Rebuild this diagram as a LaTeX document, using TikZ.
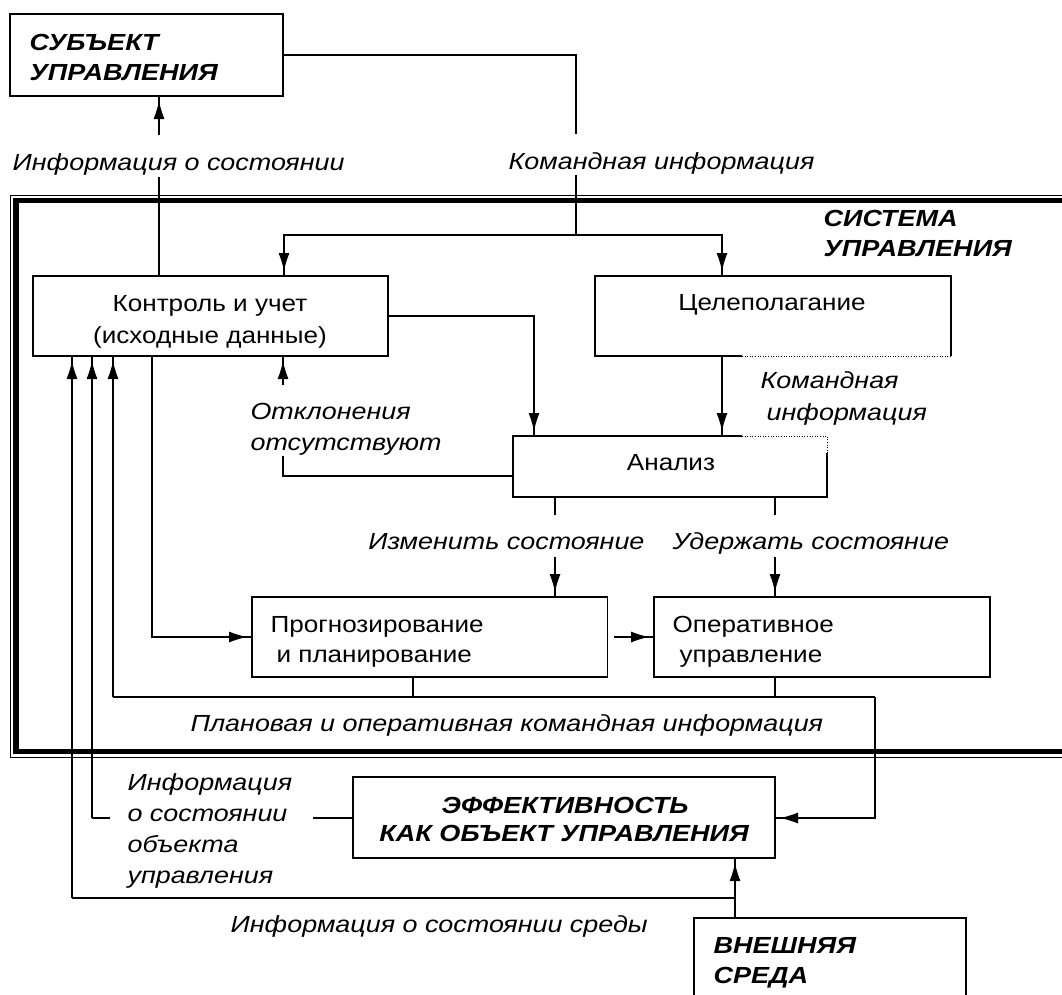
\documentclass[tikz,border=0pt]{standalone}
\usepackage{fontspec}
\setmainfont{Liberation Sans}[FakeStretch=1.12]
\newfontfamily\itfam{Liberation Sans}[FakeStretch=1.155]
\newfontfamily\bifam{Liberation Sans}[FakeStretch=1.16]
\usetikzlibrary{arrows.meta}
\begin{document}
\begin{tikzpicture}[x=1pt,y=-1pt,line width=1.1pt,
  box/.style={draw,line width=1.1pt,inner sep=0pt,outer sep=0pt,anchor=north west},
  frm/.style={inner sep=0pt,outer sep=0pt,anchor=north west},
  reg/.style={font=\fontsize{23.3}{28}\selectfont,anchor=base west,inner sep=0pt},
  regc/.style={reg,anchor=base},
  itl/.style={font=\itfam\fontsize{23.3}{28}\selectfont\itshape,anchor=base west,inner sep=0pt},
  itr/.style={itl,anchor=base east},
  bit/.style={font=\bifam\fontsize{23.3}{28}\selectfont\bfseries\itshape,anchor=base west,inner sep=0pt},
  bitc/.style={bit,anchor=base},
  arr/.style={-{Latex[length=18pt,width=11pt,sep=0pt]Rectangle[length=5pt,width=1.1pt]}},
  dotln/.style={line width=1pt,dash pattern=on 1pt off 1.6pt}
]
\useasboundingbox (0,0) rectangle (1062,994);
% system frame
\draw[line width=1pt] (10.5,195) rectangle (1110,757);
\draw[line width=5.5pt] (16,200.5) rectangle (1100,751.5);

% boxes
\node[box,minimum width=273pt,minimum height=82pt] (subj) at (10,14) {};
\node[box,minimum width=355pt,minimum height=80pt] (kont) at (33,276) {};
\node[frm,minimum width=356pt,minimum height=80pt] (cel) at (595,276) {};
\node[frm,minimum width=314pt,minimum height=61pt] (anal) at (513,436) {};
\node[box,minimum width=355.5pt,minimum height=80pt] (prog) at (252,597) {};
\node[box,minimum width=336pt,minimum height=80pt] (oper) at (654,597) {};
\node[box,minimum width=422pt,minimum height=81pt] (eff) at (353,777) {};
\node[box,minimum width=272pt,minimum height=100pt] (ext) at (694,918) {};

% partly dotted borders
\draw (cel.south -| 742,0) -- (cel.south west) -- (cel.north west) -- (cel.north east) -- (cel.south east);
\draw[dotln] (cel.south east) -- (cel.south -| 742,0);
\draw (anal.north -| 742,0) -- (anal.north west) -- (anal.south west) -- (anal.south east) -- (anal.east |- 0,453);
\draw[dotln] (anal.north -| 742,0) -- (anal.north east) -- (anal.east |- 0,453);

% texts
\node[bit] (t1) at (29,50.5) {СУБЪЕКТ};
\node[bit] (t2) at (29,80.5) {УПРАВЛЕНИЯ};
\node[itl] (linfo) at (12,170.5) {Информация о состоянии};
\node[itl] (lcmd) at (508,169.5) {Командная информация};
\node[bit] (s1) at (823,226.5) {СИСТЕМА};
\node[bit] (s2) at (823,256.5) {УПРАВЛЕНИЯ};
\node[regc] (k1) at (210,311.5) {Контроль и учет};
\node[regc] (k2) at (210,343.5) {(исходные данные)};
\node[regc] (c1) at (772,310.5) {Целеполагание};
\node[itl] (o1) at (250,419.5) {Отклонения};
\node[itl] (o2) at (250,450.5) {отсутствуют};
\node[itl] (ci1) at (760,388.5) {Командная};
\node[itl] (ci2) at (766,420.5) {информация};
\node[regc] (a1) at (671,470.5) {Анализ};
\node[itr] (iz) at (645,549.5) {Изменить состояние};
\node[itl] (ud) at (672,549.5) {Удержать состояние};
\node[reg] (p1) at (270,632.5) {Прогнозирование};
\node[reg] (p2) at (276,662.5) {и планирование};
\node[reg] (op1) at (672,632.5) {Оперативное};
\node[reg] (op2) at (679,662.5) {управление};
\node[itl] (pl) at (190,731.5) {Плановая и оперативная командная информация};
\node[itl] (io1) at (127,790.5) {Информация};
\node[itl] (io2) at (127,821.5) {о состоянии};
\node[itl] (io3) at (127,852.5) {объекта};
\node[itl] (io4) at (127,883.5) {управления};
\node[bitc] (e1) at (565,813.5) {ЭФФЕКТИВНОСТЬ};
\node[bitc] (e2) at (564,841.5) {КАК ОБЪЕКТ УПРАВЛЕНИЯ};
\node[itl] (is) at (230,932.5) {Информация о состоянии среды};
\node[bit] (x1) at (713,953.5) {ВНЕШНЯЯ};
\node[bit] (x2) at (713,983.5) {СРЕДА};

% guide coordinates
\coordinate (cmA) at (576,134);
\coordinate (cmB) at (576,175);
\coordinate (cmC) at (576,235);
\coordinate (inA) at (159,135);
\coordinate (inB) at (159,177);
\coordinate (otA) at (283,385);
\coordinate (otB) at (283,456);
\coordinate (izA) at (555,515);
\coordinate (izB) at (555,557);
\coordinate (udA) at (775,515);
\coordinate (udB) at (775,557);
\coordinate (plL) at (113,697);
\coordinate (plR) at (875,697);
\coordinate (obL) at (92,818);
\coordinate (obA) at (110,818);
\coordinate (obB) at (313,818);
\coordinate (srL) at (72,898);
\coordinate (srJ) at (735,898);
\coordinate (kpA) at (152,637);
\coordinate (poA) at (614,637);

% connectors
\draw (subj.east) -| (cmA);
\draw (cmB) -- (cmC);
\draw[arr] (cmC) -| (kont.north -| 284,0);
\draw[arr] (cmC) -| (cel.north -| 722,0);
\draw[arr] (inA) -- (inA |- subj.south);
\draw (kont.north -| inB) -- (inB);
\draw[arr] (kont.east |- 0,316) -| (anal.north -| 534,0);
\draw[arr] (cel.south -| 722,0) -- (anal.north -| 722,0);
\draw (anal.west |- 0,476) -| (otB);
\draw[arr] (otA) -- (otA |- kont.south);
\draw (anal.south -| izA) -- (izA);
\draw[arr] (izB) -- (izB |- prog.north);
\draw (anal.south -| udA) -- (udA);
\draw[arr] (udB) -- (udB |- oper.north);
\draw[arr] (kont.south -| kpA) |- (prog.west |- kpA);
\draw[arr] (poA) -- (oper.west |- poA);
\draw (prog.south -| 413,0) -- (413,697);
\draw (oper.south -| 775,0) -- (775,697);
\draw (plL) -- (plR);
\draw[arr] (plL) -- (plL |- kont.south);
\draw[arr] (plR) |- (eff.east |- 0,818);
\draw (eff.west |- obB) -- (obB);
\draw (obA) -- (obL);
\draw[arr] (obL) -- (obL |- kont.south);
\draw[arr] (ext.north -| srJ) -- (eff.south -| srJ);
\draw (srJ) -- (srL);
\draw[arr] (srL) -- (srL |- kont.south);
\end{tikzpicture}
\end{document}
